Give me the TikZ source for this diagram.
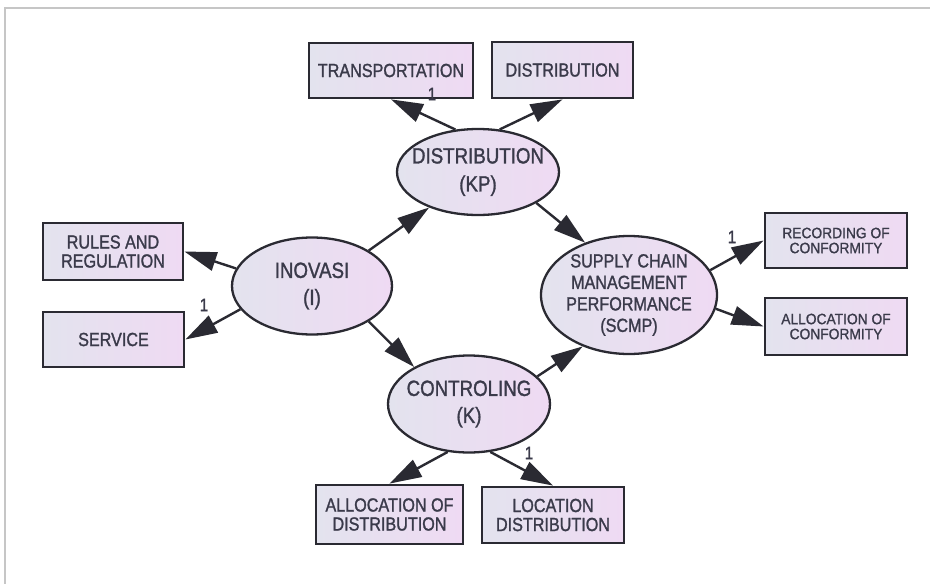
\documentclass[tikz,border=0pt]{standalone}
\usepackage{fontspec}
\newfontfamily\labfont[FakeStretch=0.85,FakeBold=1.3]{Liberation Sans}
\newfontfamily\labfontw[FakeStretch=0.92,FakeBold=1.1]{Liberation Sans}
\usetikzlibrary{arrows.meta,shapes.geometric}
\definecolor{txt}{HTML}{3A3A4A}
\definecolor{edge}{HTML}{2A2A32}
\definecolor{fillL}{HTML}{E3E3EE}
\definecolor{fillR}{HTML}{EFDAF3}
\tikzset{
  obs/.style={draw=edge, line width=2.8pt, left color=fillL, right color=fillR,
    inner sep=0pt, align=center, text=txt, font=\labfont\fontsize{19}{19}\selectfont},
  obssmall/.style={obs, font=\labfontw\fontsize{15}{15}\selectfont},
  lat/.style={ellipse, draw=edge, line width=2.3pt, left color=fillL, right color=fillR, inner sep=0pt},
  lattext/.style={align=center, text=txt, inner sep=0pt},
  conn/.style={draw=edge, line width=2.4pt, -{Triangle[length=32pt 0,width=19pt 0]}},
  one/.style={text=txt, font=\labfont\fontsize{18}{18}\selectfont, inner sep=0pt}
}
\begin{document}
\begin{tikzpicture}[x=1pt,y=-1pt]
\useasboundingbox (0,0) rectangle (930,584);
\fill[white] (0,0) rectangle (930,584);
\draw[gray!45, line width=2pt] (5,590) -- (5,8) -- (935,8);

% observed boxes
\node[obs, minimum width=164pt, minimum height=55pt] (tr) at (391,70.5) {TRANSPORTATION};
\node[obs, minimum width=141pt, minimum height=56pt] (dist) at (562.5,70) {DISTRIBUTION};
\node[obs, minimum width=140pt, minimum height=57pt] (rules) at (113,251.5) {RULES AND\\REGULATION};
\node[obs, minimum width=141pt, minimum height=55pt] (service) at (113.5,339.5) {SERVICE};
\node[obssmall, minimum width=142pt, minimum height=55pt] (rec) at (836,240.5) {RECORDING OF\\CONFORMITY};
\node[obssmall, minimum width=142pt, minimum height=57pt] (allocc) at (836,326.5) {ALLOCATION OF\\CONFORMITY};
\node[obs, minimum width=147pt, minimum height=59pt] (alld) at (389.5,514.5) {ALLOCATION OF\\DISTRIBUTION};
\node[obs, minimum width=142pt, minimum height=56pt] (loc) at (553,515) {LOCATION\\DISTRIBUTION};

% latent ellipses
\node[lat, minimum width=162pt, minimum height=86pt] (kp) at (478,172) {};
\node[lattext, font=\labfont\fontsize{22}{28}\selectfont] (kpt) at (kp.center) {DISTRIBUTION\\(KP)};
\node[lat, minimum width=160pt, minimum height=97pt] (ino) at (312,286) {};
\node[lattext, font=\labfont\fontsize{22}{27}\selectfont] (inot) at (ino.center) {INOVASI\\(I)};
\node[lat, minimum width=176pt, minimum height=118pt] (scmp) at (629,295) {};
\node[lattext, font=\labfont\fontsize{19}{21.5}\selectfont] (scmpt) at (scmp.center) {SUPPLY CHAIN\\MANAGEMENT\\PERFORMANCE\\(SCMP)};
\node[lat, minimum width=162pt, minimum height=97pt] (con) at (469,404) {};
\node[lattext, font=\labfont\fontsize{22}{27}\selectfont] (cont) at (con.center) {CONTROLING\\(K)};

% connectors
\draw[conn] (kp.118) -- (tr.south);
\draw[conn] (kp.63) -- (dist.south);
\draw[conn] (ino.167) -- (rules.east);
\draw[conn] (ino.198) -- (service.east);
\draw[conn] (ino.32) -- (kp.216);
\draw[conn] (ino.328) -- (con.146);
\draw[conn] (kp.332) -- (scmp.130);
\draw[conn] (con.22) -- (scmp.228);
\draw[conn] (scmp.17) -- (rec.west);
\draw[conn] (scmp.351) -- (allocc.west);
\draw[conn] (con.246) -- (alld.north);
\draw[conn] (con.294) -- (loc.north);

% labels
\node[one] (l1) at (432,94) {1};
\node[one] (l2) at (204,305) {1};
\node[one] (l3) at (732,237) {1};
\node[one] (l4) at (529,453) {1};
\end{tikzpicture}
\end{document}
